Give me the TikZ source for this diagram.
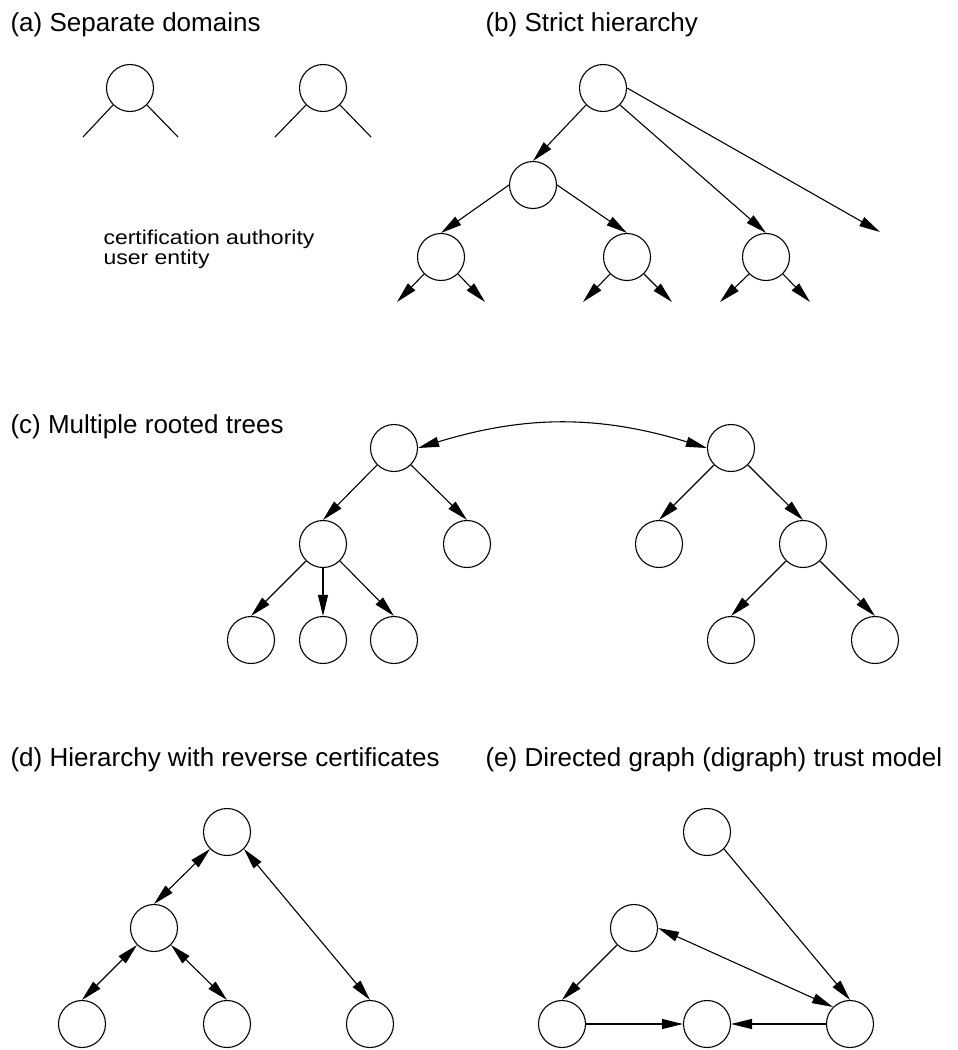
\documentclass[tikz,border=0pt]{standalone}
\usepackage{fontspec}
\setmainfont{Liberation Sans}
\newfontfamily\legendfont[FakeStretch=1.15]{Liberation Sans}
\usetikzlibrary{arrows.meta}

\begin{document}
\begin{tikzpicture}[x=1pt,y=1pt,line width=1.1pt,
  ent/.style={draw, circle, minimum size=47pt, inner sep=0pt},
  cert/.style={-{Triangle[length=21pt,width=10pt]}},
  bicert/.style={{Triangle[length=21pt,width=10pt]}-{Triangle[length=21pt,width=10pt]}},
  title/.style={anchor=base west, inner sep=0pt, font=\fontsize{26}{30}\selectfont},
  legend/.style={anchor=north west, inner sep=0pt, align=left, font=\legendfont\fontsize{20}{14.5}\selectfont}]
\useasboundingbox (0,0) rectangle (958,-1050);

% (a)
\node[title] (ta) at (10,-31) {(a) Separate domains};
\node[ent] (a1) at (130,-88) {};
\node[ent] (a2) at (323,-88) {};
\coordinate (a1-l) at (83,-137);
\coordinate (a1-r) at (178,-137);
\coordinate (a2-l) at (275,-137);
\coordinate (a2-r) at (371,-137);
\draw (a1.south west) -- (a1-l);
\draw (a1.south east) -- (a1-r);
\draw (a2.south west) -- (a2-l);
\draw (a2.south east) -- (a2-r);
\node[legend] (key) at (103,-229.5) {certification authority\\user entity};

% (b)
\node[title] (tb) at (485,-31) {(b) Strict hierarchy};
\node[ent] (b0) at (603,-88) {};
\node[ent] (b1) at (533,-185) {};
\node[ent] (b2) at (441,-257) {};
\node[ent] (b3) at (627,-257) {};
\node[ent] (b4) at (766,-257) {};
\coordinate (b5) at (880,-232);
\draw[cert] (b0.south west) -- (b1.north);
\draw[cert] (b0.south east) -- (b4.north);
\draw[cert] (b0.east) -- (b5);
\draw[cert] (b1.west) -- (b2.north);
\draw[cert] (b1.east) -- (b3.north);
\foreach \n/\xl/\xr in {b2/397/485,b3/583/672,b4/720/810}{
  \coordinate (\n-l) at (\xl,-302);
  \coordinate (\n-r) at (\xr,-302);
  \draw[cert] (\n.south west) -- (\n-l);
  \draw[cert] (\n.south east) -- (\n-r);
}

% (c)
\node[title] (tc) at (10,-433) {(c) Multiple rooted trees};
\node[ent] (c0) at (394,-448) {};
\node[ent] (c1) at (323,-544) {};
\node[ent] (c2) at (467,-544) {};
\node[ent] (c3) at (251,-640) {};
\node[ent] (c4) at (323,-640) {};
\node[ent] (c5) at (394,-640) {};
\node[ent] (c6) at (731,-448) {};
\node[ent] (c7) at (659,-544) {};
\node[ent] (c8) at (803,-544) {};
\node[ent] (c9) at (731,-640) {};
\node[ent] (c10) at (875,-640) {};
\draw[bicert] (c0.east) to[bend left=17] (c6.west);
\draw[cert] (c0.south west) -- (c1.north);
\draw[cert] (c0.south east) -- (c2.north);
\draw[cert] (c1.south west) -- (c3.north);
\draw[cert] (c1.south) -- (c4.north);
\draw[cert] (c1.south east) -- (c5.north);
\draw[cert] (c6.south west) -- (c7.north);
\draw[cert] (c6.south east) -- (c8.north);
\draw[cert] (c8.south west) -- (c9.north);
\draw[cert] (c8.south east) -- (c10.north);

% (d)
\node[title] (td) at (10,-766) {(d) Hierarchy with reverse certificates};
\node[ent] (d0) at (227,-832) {};
\node[ent] (d1) at (154,-928) {};
\node[ent] (d2) at (82,-1024) {};
\node[ent] (d3) at (227,-1024) {};
\node[ent] (d4) at (370,-1024) {};
\draw[bicert] (d0.south west) -- (d1.north);
\draw[bicert] (d1.south west) -- (d2.north);
\draw[bicert] (d1.south east) -- (d3.north);
\draw[bicert] (d0.south east) -- (d4.north);

% (e)
\node[title] (te) at (485,-766) {(e) Directed graph (digraph) trust model};
\node[ent] (e0) at (707,-832) {};
\node[ent] (e1) at (634,-928) {};
\node[ent] (e2) at (562,-1024) {};
\node[ent] (e3) at (707,-1024) {};
\node[ent] (e4) at (850,-1024) {};
\draw[cert] (e0.south east) -- (e4.north);
\draw[bicert] (e1.east) -- (e4.north west);
\draw[cert] (e1.south west) -- (e2.north);
\draw[cert] (e2.east) -- (e3.west);
\draw[cert] (e4.west) -- (e3.east);
\end{tikzpicture}
\end{document}
